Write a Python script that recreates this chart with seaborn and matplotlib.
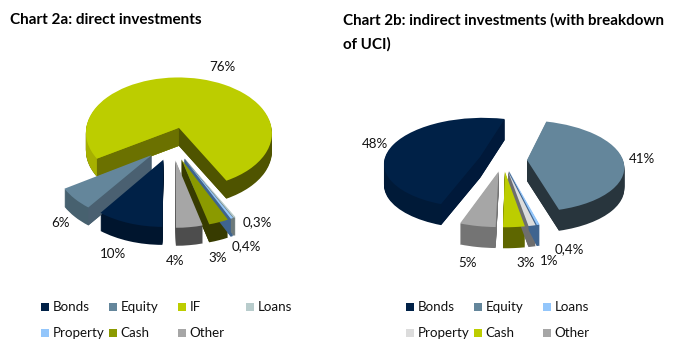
import numpy as np
import matplotlib
matplotlib.use("Agg")
import matplotlib.pyplot as plt
import pandas as pd
import seaborn as sns
from matplotlib.patches import Polygon, Wedge
from matplotlib.transforms import Affine2D, Transform

labels_2a = ["Bonds", "Equity", "IF", "Loans", "Property", "Cash", "Other"]
values_2a = [10, 6, 76, 0.3, 0.4, 3, 4]
pct_2a = ["10%", "6%", "76%", "0,3%", "0,4%", "3%", "4%"]
tops_2a = ["#002147", "#64869b", "#bccd00", "#b8cccc", "#93c6fb", "#8b9a00", "#a6a6a6"]
sides_2a = ["#00152e", "#47616f", "#4f5400", "#6d7a7a", "#3f648f", "#373b00", "#4d4d4d"]
cuts_2a = ["#001a38", "#4a6071", "#4f5400", "#6d7a7a", "#3f648f", "#373b00", "#4d4d4d"]

labels_2b = ["Bonds", "Equity", "Loans", "Property", "Cash", "Other"]
values_2b = [48, 41, 0.4, 1, 3, 5]
pct_2b = ["48%", "41%", "0,4%", "1%", "3%", "5%"]
tops_2b = ["#002147", "#64869b", "#93c6fb", "#dcdcdc", "#bccd00", "#a6a6a6"]
sides_2b = ["#001a38", "#28353d", "#3f648f", "#6e6e6e", "#5e6600", "#747474"]
cuts_2b = ["#00193a", "#28353d", "#3f648f", "#6e6e6e", "#5e6600", "#747474"]

W, H = 687, 354


class Tilt(Transform):
    # unit pie -> pixels, front of the pie bigger than the back
    input_dims = 2
    output_dims = 2

    def __init__(self, cx, cy, ax_, ay_, p):
        super().__init__()
        self.cx, self.cy, self.ax_, self.ay_, self.p = cx, cy, ax_, ay_, p

    def transform_non_affine(self, v):
        v = np.asarray(v, float)
        f = 1 / (1 + self.p * v[:, 1])
        return np.column_stack([self.cx + self.ax_ * v[:, 0] * f, self.cy - self.ay_ * v[:, 1] * f])


sns.set_theme(style="white")
plt.rcParams["font.family"] = ["Lato", "DejaVu Sans"]

fig = plt.figure(figsize=(W / 100, H / 100), dpi=100)
ax = fig.add_axes([0, 0, 1, 1])


def draw_pie(values, tops, sides, cuts, start, tilt, depth, explode, cut2=None, lit=None):
    expl = [explode] * len(values)

    # stacked copies for the outer wall
    for d in range(depth, 0, -1):
        wedges, _ = ax.pie(values, colors=sides, startangle=start, counterclock=False, explode=expl,
                           labeldistance=None, wedgeprops={"linewidth": 0})
        for i, w in enumerate(wedges):
            w.set_transform(tilt + Affine2D().translate(0, d) + ax.transData)
            # lighter stretch of wall on the side facing the light
            if lit and i in lit:
                col, span = lit[i]
                extra = Wedge(w.center, 1, w.theta2 - span, w.theta2, fc=col, ec="none", zorder=2)
                ax.add_patch(extra)
                extra.set_transform(tilt + Affine2D().translate(0, d) + ax.transData)

    wedges, _ = ax.pie(values, colors=tops, startangle=start, counterclock=False, explode=expl,
                       labeldistance=None, wedgeprops={"linewidth": 0})

    # straight walls on the cut sides, only those that face the viewer
    for i, w in enumerate(wedges):
        w.set_transform(tilt + ax.transData)
        w.set_zorder(5)
        x0, y0 = w.center
        mid = np.radians((w.theta1 + w.theta2) / 2)
        for which, th in enumerate([w.theta1, w.theta2]):
            ang = np.radians(th)
            ux, uy = np.cos(ang), np.sin(ang)
            nx, ny = -uy, ux
            if nx * np.cos(mid) + ny * np.sin(mid) > 0:
                nx, ny = -nx, -ny
            if ny >= 0:
                continue
            col = cuts[i]
            if cut2 and which == 1 and i in cut2:
                col = cut2[i]
            a, b = tilt.transform([(x0, y0), (x0 + ux, y0 + uy)])
            ax.add_patch(Polygon([a, b, b + (0, depth), a + (0, depth)], closed=True,
                                 fc=col, ec="none", zorder=4))


draw_pie(values_2a, tops_2a, sides_2a, cuts_2a, 270, Tilt(172, 143.5, 95, 57.8, 0.0924), 18, 0.287,
         cut2={2: "#6b7100"}, lit={2: ("#a6b000", 60)})
draw_pie(values_2b, tops_2b, sides_2b, cuts_2b, 250.6, Tilt(503, 160, 96, 44.9, 0.133), 21, 0.25)


def draw_legend(labels, tops, columns, rows):
    xs = [columns[i % len(columns)] for i in range(len(labels))]
    ys = [rows[i // len(columns)] for i in range(len(labels))]
    df = pd.DataFrame({"x": xs, "y": ys, "name": labels})
    sns.scatterplot(data=df, x="x", y="y", hue="name", palette=dict(zip(labels, tops)),
                    marker="s", s=34, linewidth=0, legend=False, ax=ax)
    for x, y, name in zip(xs, ys, labels):
        ax.text(x + 7.5, y, name, fontsize=9.6, color="#111111", ha="left", va="center")


draw_legend(labels_2a, tops_2a, [45, 113, 182, 250], [307, 333])
draw_legend(labels_2b, tops_2b, [410, 478, 547], [307, 333])

pos_2a = [(113, 254), (61, 223), (222, 67), (257, 222), (246, 246), (218, 258), (175, 261)]
pos_2b = [(375, 144), (642, 159), (569, 249), (549, 261), (526, 263), (468, 263)]
for txt, (x, y) in zip(pct_2a + pct_2b, pos_2a + pos_2b):
    ax.text(x, y, txt, fontsize=9.6, color="#111111", ha="center", va="center", zorder=10)

ax.text(10, 20, "Chart 2a: direct investments", fontsize=11, fontweight="bold", color="black", va="center")
ax.text(343, 20, "Chart 2b: indirect investments (with breakdown", fontsize=10.9, fontweight="bold", color="black", va="center")
ax.text(343, 44, "of UCI)", fontsize=10.9, fontweight="bold", color="black", va="center")

ax.set_aspect("auto")
ax.set_xlim(0, W)
ax.set_ylim(H, 0)
ax.set_axis_off()

fig.savefig("out.png", dpi=100, facecolor="white")
